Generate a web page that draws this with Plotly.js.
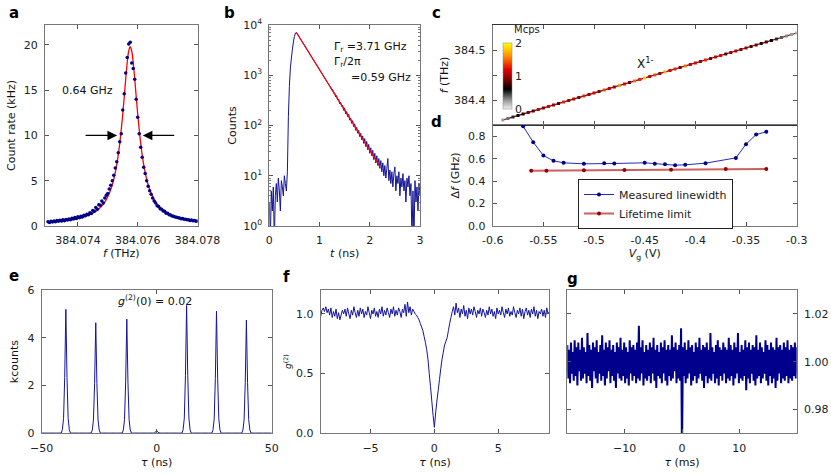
<!DOCTYPE html>
<html>
<head>
<meta charset="utf-8">
<script src="https://cdn.plot.ly/plotly-3.0.1.min.js"></script>
<style>html,body{margin:0;padding:0;background:#fff}#chart{width:831px;height:475px}</style>
</head>
<body>
<div id="chart"></div>
<script>
// ---------- Panel a: resonance fluorescence linescan ----------
const aFreqStart = 384.0730;   // THz, first dot
const aFreqStep = 0.00005;     // THz between dots
const aCountRate = [
0.48,0.40,0.52,0.45,0.55,0.47,0.60,0.52,0.63,0.55,
0.70,0.58,0.72,0.66,0.78,0.70,0.85,0.76,0.93,0.84,
1.02,0.90,1.08,1.00,1.20,1.12,1.30,1.25,1.45,1.38,
1.70,1.62,2.05,1.85,2.35,2.30,2.75,2.55,3.10,3.40,
3.60,4.10,4.50,5.00,5.60,6.40,7.10,8.10,9.30,10.20,
12.80,14.60,16.90,18.60,20.10,20.30,18.00,17.40,16.20,14.00,
12.00,10.20,8.70,7.60,6.50,5.80,5.00,4.40,3.90,3.50,
3.10,2.75,2.55,2.25,2.15,1.90,1.85,1.65,1.62,1.40,
1.40,1.25,1.22,1.10,1.08,1.00,0.98,0.90,0.88,0.80,
0.82,0.74,0.75,0.68,0.70,0.62,0.65,0.58,0.60,0.52,
0.56];
const aFitFreq = [384.0730,384.0733,384.0736,384.0739,384.0742,384.0745,384.0747,384.0749,384.0751,384.0752,
384.0753,384.0754,384.0755,384.0756,384.07565,384.0757,384.07575,384.0758,384.07585,384.0759,
384.0760,384.0761,384.0762,384.0763,384.0764,384.0766,384.0768,384.0770,384.0773,384.0776,384.0780];
const aFitRate = [0.46,0.53,0.62,0.77,1.00,1.41,1.87,2.63,4.02,5.16,
6.78,9.13,12.37,16.27,18.06,19.33,19.80,19.33,18.06,16.27,
12.37,9.13,6.78,5.16,4.02,2.63,1.87,1.41,1.00,0.77,0.59];

// ---------- Panel b: lifetime ----------
const bTimeStart = 0;     // ns
const bTimeStep = 0.02;   // ns
const bCounts = [
3,0.5,5,2,6,0.5,4,7,3,9,5,2,8,6,4,10,7,5,
12,150,600,1400,2200,3300,4600,5900,6900,7100,
6590,6120,5680,5280,4900,4550,4220,3920,3640,3380,3140,2920,2710,2510,2330,2170,2010,1870,1735,1610,1500,1390,1290,1200,1110,1030,960,890,826,767,712,662,614,
585,510,520,440,445,370,395,320,335,270,290,240,255,200,225,170,190,150,168,128,142,110,125,95,108,80,92,70,80,60,70,52,62,44,55,38,48,33,42,28,36,25,32,21,28,18,25,16,22,14,
20,12,18,10,16,9,14,22,8,13,7,12,6,11,15,5,10,7,12,4,9,6,11,5,8,3,9,6,10,4,7,0.5,5,0.5,8,3,6,2,7,4];
const bFitTime = [0.54, 2.20];
const bFitCounts = [7100, 15.2];
const bTickVals = [1, 10, 100, 1000, 10000];
const bTickText = ['10<sup>0</sup>','10<sup>1</sup>','10<sup>2</sup>','10<sup>3</sup>','10<sup>4</sup>'];

// ---------- Panel c: gate-voltage map ----------
const cVoltage = [-0.590,-0.585,-0.580,-0.575,-0.570,-0.565,-0.560,-0.555,-0.550,-0.545,
-0.540,-0.535,-0.530,-0.525,-0.520,-0.515,-0.510,-0.505,-0.500,-0.495,
-0.490,-0.485,-0.480,-0.475,-0.470,-0.465,-0.460,-0.455,-0.450,-0.445,
-0.440,-0.435,-0.430,-0.425,-0.420,-0.415,-0.410,-0.405,-0.400,-0.395,
-0.390,-0.385,-0.380,-0.375,-0.370,-0.365,-0.360,-0.355,-0.350,-0.345,
-0.340,-0.335,-0.330,-0.325,-0.320,-0.315,-0.310,-0.305,-0.300];
const cFreq = [384.360,384.363,384.366,384.369,384.372,384.375,384.378,384.381,384.384,384.387,
384.390,384.393,384.396,384.399,384.402,384.405,384.408,384.411,384.414,384.417,
384.420,384.423,384.426,384.429,384.432,384.435,384.438,384.441,384.444,384.447,
384.450,384.453,384.456,384.459,384.462,384.465,384.468,384.471,384.474,384.477,
384.480,384.483,384.486,384.489,384.492,384.495,384.498,384.501,384.504,384.507,
384.510,384.513,384.516,384.519,384.522,384.525,384.528,384.531,384.534];
const cIntensity = [0.25,0.35,0.5,0.6,0.7,0.9,0.8,1.1,0.9,1.2,
1.0,0.8,1.3,1.0,1.1,0.9,1.3,1.0,1.2,0.9,
1.4,1.1,1.0,1.6,1.2,0.9,1.5,1.3,1.8,1.1,
1.4,1.0,1.7,1.2,1.3,0.9,1.5,1.1,1.2,1.0,
1.3,0.9,1.1,1.2,0.8,1.0,1.1,0.9,1.0,0.8,
0.9,0.7,0.8,0.6,0.5,0.4,0.3,0.25,0.2];
const cTickVals = [384.4, 384.45, 384.5];
const cTickText = ['384.4', '', '384.5'];
const cBarTicks = [0, 1, 2];

// ---------- Panel d: linewidth vs gate voltage ----------
const dMeasV = [-0.58,-0.57,-0.56,-0.55,-0.54,-0.53,-0.51,-0.49,-0.48,-0.45,-0.44,-0.43,-0.42,-0.41,-0.39,-0.36,-0.35,-0.34,-0.33];
const dMeasWidth = [1.10,0.889,0.747,0.628,0.581,0.563,0.554,0.560,0.557,0.563,0.554,0.551,0.542,0.545,0.560,0.607,0.729,0.815,0.839];
const dLimitV = [-0.562,-0.547,-0.51,-0.47,-0.424,-0.37,-0.33];
const dLimitWidth = [0.492,0.493,0.496,0.499,0.502,0.507,0.508];
const dTickVals = [-0.6,-0.55,-0.5,-0.45,-0.4,-0.35,-0.3];
const dTickText = ['-0.6','-0.55','-0.5','-0.45','-0.4','-0.35','-0.3'];

// ---------- Panel e: pulsed g2 ----------
const eTauStart = -50;  // ns
const eTauStep = 0.5;   // ns
const eKcounts = [
0.01,0.01,0.01,0.01,0.01,0.01,0.01,0.01,0.01,0.01,
0.01,0.01,0.01,0.01,0.01,0.01,0.01,0.01,0.16,0.62,
2.34,5.19,2.34,0.62,0.16,0.01,0.01,0.01,0.01,0.01,
0.01,0.01,0.01,0.01,0.01,0.01,0.01,0.01,0.01,0.01,
0.01,0.01,0.01,0.01,0.14,0.56,2.08,4.63,2.08,0.56,
0.14,0.01,0.01,0.01,0.01,0.01,0.01,0.01,0.01,0.01,
0.01,0.01,0.01,0.01,0.01,0.01,0.01,0.01,0.01,0.01,
0.01,0.14,0.57,2.15,4.78,2.15,0.57,0.14,0.01,0.01,
0.01,0.01,0.01,0.01,0.01,0.01,0.01,0.01,0.01,0.01,
0.01,0.01,0.01,0.01,0.01,0.01,0.01,0.01,0.02,0.05,
0.11,0.05,0.02,0.01,0.01,0.01,0.01,0.01,0.01,0.01,
0.01,0.01,0.01,0.01,0.01,0.01,0.01,0.01,0.01,0.01,
0.01,0.01,0.01,0.16,0.64,2.41,5.35,2.41,0.64,0.16,
0.01,0.01,0.01,0.01,0.01,0.01,0.01,0.01,0.01,0.01,
0.01,0.01,0.01,0.01,0.01,0.01,0.01,0.01,0.01,0.15,
0.61,2.30,5.12,2.30,0.61,0.15,0.01,0.01,0.01,0.01,
0.01,0.01,0.01,0.01,0.01,0.01,0.01,0.01,0.01,0.01,
0.01,0.01,0.01,0.01,0.01,0.14,0.57,2.13,4.74,2.13,
0.57,0.14,0.01,0.01,0.01,0.01,0.01,0.01,0.01,0.01,
0.01,0.01,0.01,0.01,0.01,0.01,0.01,0.01,0.01,0.01,
0.01];

// ---------- Panel f: CW g2 ----------
const fTauStart = -9;  // ns
const fTauStep = 0.1;  // ns
const fG2 = [
1.00,0.98,1.03,1.05,1.02,1.06,1.01,1.04,0.99,1.05,
0.97,1.02,0.98,1.04,0.96,1.01,0.95,0.99,1.03,1.00,
1.04,0.98,1.05,1.00,0.96,1.03,0.99,1.06,1.01,0.97,
1.03,0.98,1.05,1.00,1.04,0.97,1.02,0.99,1.06,1.01,
0.96,1.03,1.00,1.05,0.98,1.02,0.97,1.04,1.00,1.06,
0.98,1.03,0.99,1.05,1.01,0.97,1.04,1.00,1.06,0.98,
1.03,0.99,1.05,1.02,0.97,1.04,1.01,1.08,0.98,1.10,
1.01,1.06,0.99,1.04,1.02,
1.00,0.99,0.97,0.95,0.92,0.89,0.86,0.81,0.76,0.70,
0.62,0.50,0.39,0.27,0.15,0.05,0.17,0.27,0.36,0.45,
0.54,0.62,0.68,0.74,0.77,0.80,0.86,0.92,0.97,1.02,
1.06,0.99,1.09,1.01,1.05,0.97,1.04,1.00,1.07,0.98,
1.03,0.96,1.05,1.00,1.04,0.99,1.06,1.02,0.97,1.03,
1.00,1.05,0.98,1.04,1.01,0.97,1.03,0.99,1.06,1.00,
1.04,0.98,1.02,0.96,1.05,1.00,1.03,0.99,1.06,1.01,
0.97,1.04,1.00,1.05,0.98,1.02,0.99,1.06,1.01,0.97,
1.03,1.00,1.05,0.98,1.04,0.96,1.02,1.05,0.99,1.03,
0.97,1.04,1.00,1.06,0.98,1.03,0.96,1.02,1.00,1.04,
0.98,1.03,0.97,1.05,1.00,1.02];

// ---------- Panel g: long-timescale g2 ----------
const gTauStart = -20;  // ms
const gTauStep = 0.16;  // ms
const gG2 = [
1.007,0.993,1.005,0.991,1.008,0.995,1.004,0.992,1.009,0.994,
1.006,0.990,1.008,0.996,1.005,0.992,1.010,0.993,1.006,0.995,
1.004,0.991,1.012,0.994,1.007,0.992,1.005,0.989,1.008,0.996,
1.006,0.993,1.009,0.991,1.004,0.995,1.007,0.992,1.011,0.994,
1.005,0.990,1.008,0.993,1.006,0.996,1.009,0.991,1.005,0.994,
1.007,0.992,1.004,0.989,1.008,0.995,1.006,0.993,1.010,0.992,
1.005,0.994,1.008,0.991,1.006,0.993,1.004,0.990,1.009,0.995,
1.006,0.992,1.007,0.994,1.005,0.991,1.008,0.993,1.015,0.992,
1.006,0.995,1.009,0.990,1.004,0.993,1.007,0.992,1.005,0.994,
1.008,0.991,1.006,0.995,1.010,0.992,1.005,0.989,1.007,0.994,
1.004,0.993,1.008,0.991,1.006,0.995,1.009,0.992,1.005,0.990,
1.007,0.994,1.005,0.992,1.011,0.993,1.006,0.996,1.008,0.991,
1.005,0.993,1.007,0.992,1.014,0.960,1.006,0.994,1.008,0.991,
1.005,0.993,1.009,0.995,1.006,0.990,1.007,0.992,1.004,0.994,
1.008,0.991,1.006,0.993,1.010,0.995,1.005,0.992,1.007,0.989,
1.006,0.994,1.008,0.991,1.005,0.993,1.012,0.992,1.006,0.995,
1.004,0.991,1.007,0.993,1.009,0.990,1.006,0.994,1.005,0.992,
1.008,0.995,1.006,0.991,1.005,0.993,1.010,0.992,1.007,0.994,
1.005,0.990,1.008,0.993,1.006,0.995,1.012,0.991,1.004,0.993,
1.007,0.992,1.005,0.994,1.009,0.988,1.006,0.993,1.008,0.991,
1.005,0.995,1.007,0.992,1.006,0.990,1.011,0.993,1.005,0.994,
1.008,0.991,1.006,0.993,1.004,0.995,1.009,0.992,1.007,0.990,
1.005,0.994,1.008,0.991,1.006,0.993,1.005,0.989,1.010,0.992,
1.006,0.995,1.007,0.991,1.005,0.993,1.008,0.992,1.006,0.994,
1.009,0.991,1.005,0.993,1.007,0.992,1.006,0.994,1.008,0.993,
1.006];

// ---------- styling ----------
const W = 831, H = 475;
const FONT = 'DejaVu Sans, Verdana, sans-serif';
const NAVY = 'rgb(0,0,139)';
const px = v => v / W;
const py = v => 1 - v / H;

function axis(extra) {
  return Object.assign({
    showline: true, linecolor: '#777', linewidth: 1, mirror: 'ticks',
    ticks: 'inside', ticklen: 4, tickcolor: '#555',
    showgrid: false, zeroline: false,
    tickfont: {family: FONT, size: 11, color: '#222'},
    ticklabelstandoff: 4,
    fixedrange: true
  }, extra);
}
function ttl(text, standoff, size) {
  return {text: text, standoff: standoff, font: {family: FONT, size: size || 11, color: '#111'}};
}
function note(text, x, y, opts) {
  return Object.assign({text: text, x: px(x), y: py(y), xref: 'paper', yref: 'paper', xanchor: 'center', yanchor: 'middle',
    showarrow: false, font: {family: FONT, size: 11, color: '#111'}}, opts || {});
}
const letterFont = {family: FONT, size: 15, color: '#000'};

const traces = [
  // a
  {type: 'scatter', mode: 'lines', x: aFitFreq, y: aFitRate, line: {color: '#ff0000', width: 1.3, shape: 'spline'}, xaxis: 'x', yaxis: 'y', showlegend: false},
  {type: 'scatter', mode: 'markers', x0: aFreqStart, dx: aFreqStep, y: aCountRate, marker: {color: NAVY, size: 3.5}, xaxis: 'x', yaxis: 'y', showlegend: false},
  // b
  {type: 'scatter', mode: 'lines', x0: bTimeStart, dx: bTimeStep, y: bCounts, line: {color: 'rgb(20,20,150)', width: 1, simplify: false}, xaxis: 'x2', yaxis: 'y2', showlegend: false},
  {type: 'scatter', mode: 'lines', x: bFitTime, y: bFitCounts, line: {color: '#ff0000', width: 1.2}, xaxis: 'x2', yaxis: 'y2', showlegend: false},
  // c
  {type: 'scatter', mode: 'lines', x: cVoltage, y: cFreq, line: {color: '#701515', width: 1.3}, xaxis: 'x3', yaxis: 'y3', showlegend: false, hoverinfo: 'skip'},
  {type: 'scatter', mode: 'markers', x: cVoltage, y: cFreq, xaxis: 'x3', yaxis: 'y3', showlegend: false,
   marker: {color: cIntensity, cmin: 0, cmax: 2, size: 3, symbol: 'square', line: {width: 0},
     colorscale: [[0, '#f0f0f0'], [0.12, '#a0a0a0'], [0.3, '#000000'], [0.45, '#800000'], [0.6, '#e00000'], [0.8, '#ff9000'], [1, '#ffff00']],
     showscale: true,
     colorbar: {x: px(502.5), xanchor: 'left', y: py(109), yanchor: 'bottom', len: 66 / H, lenmode: 'fraction',
       thickness: 9, thicknessmode: 'pixels', xpad: 0, ypad: 0, outlinewidth: 0.5, outlinecolor: '#888',
       tickvals: cBarTicks, ticks: '', ticklabelposition: 'outside',
       tickfont: {family: FONT, size: 11, color: '#222'}}}},
  // d
  {type: 'scatter', mode: 'lines+markers', name: 'Measured linewidth', x: dMeasV, y: dMeasWidth,
   line: {color: '#2828b8', width: 1}, marker: {color: NAVY, size: 4}, xaxis: 'x4', yaxis: 'y4'},
  {type: 'scatter', mode: 'lines+markers', name: 'Lifetime limit', x: dLimitV, y: dLimitWidth,
   line: {color: 'rgb(205,95,95)', width: 2}, marker: {color: 'rgb(150,0,0)', size: 4}, xaxis: 'x4', yaxis: 'y4'},
  // e
  {type: 'scatter', mode: 'lines', x0: eTauStart, dx: eTauStep, y: eKcounts, line: {color: 'rgb(20,20,160)', width: 1, simplify: false}, xaxis: 'x5', yaxis: 'y5', showlegend: false},
  // f
  {type: 'scatter', mode: 'lines', x0: fTauStart, dx: fTauStep, y: fG2, line: {color: 'rgb(20,20,160)', width: 1, simplify: false}, xaxis: 'x6', yaxis: 'y6', showlegend: false},
  // g
  {type: 'scatter', mode: 'lines', x0: gTauStart, dx: gTauStep, y: gG2, line: {color: 'rgb(0,0,140)', width: 2, simplify: false}, xaxis: 'x7', yaxis: 'y7', showlegend: false}
];

const layout = {
  width: W, height: H,
  margin: {l: 0, r: 0, t: 0, b: 0},
  paper_bgcolor: '#fff', plot_bgcolor: '#fff',
  font: {family: FONT, size: 11, color: '#222'},
  showlegend: true,
  legend: {x: px(578), y: py(179), xanchor: 'left', yanchor: 'top', bgcolor: '#fff', bordercolor: '#222', borderwidth: 1,
    font: {family: FONT, size: 11, color: '#222'}, tracegroupgap: 0, itemwidth: 30},
  // a
  xaxis: axis({domain: [px(45), px(197.5)], anchor: 'y', range: [384.0729, 384.0780], tickvals: [384.074, 384.076, 384.078], tickformat: '.3f',
    title: ttl('<i>f</i> (THz)', 3)}),
  yaxis: axis({domain: [py(226), py(25)], anchor: 'x', range: [0, 22.2], dtick: 5, title: ttl('Count rate (kHz)', 5)}),
  // b
  xaxis2: axis({domain: [px(269.3), px(420)], anchor: 'y2', range: [0, 3], dtick: 1, title: ttl('<i>t</i> (ns)', 3)}),
  yaxis2: axis({domain: [py(226), py(25)], anchor: 'x2', type: 'log', range: [0, 4], tickvals: bTickVals, ticktext: bTickText,
    minor: {ticks: 'inside', ticklen: 2, tickcolor: '#777', dtick: 'D1'},
    title: ttl('Counts', 4)}),
  // c
  xaxis3: axis({domain: [px(492.7), px(796.7)], anchor: 'y3', range: [-0.6, -0.3], tickvals: dTickVals, showticklabels: false, linecolor: '#333'}),
  yaxis3: axis({domain: [py(125), py(25)], anchor: 'x3', range: [384.35, 384.55], tickvals: cTickVals, ticktext: cTickText,
    title: ttl('<i>f</i> (THz)', 3)}),
  // d
  xaxis4: axis({domain: [px(492.7), px(796.7)], anchor: 'y4', range: [-0.6, -0.3], tickvals: dTickVals, ticktext: dTickText,
    title: ttl('<i>V</i><sub>g</sub> (V)', 2)}),
  yaxis4: axis({domain: [py(226), py(125)], anchor: 'x4', range: [0, 0.9], tickvals: [0, 0.2, 0.4, 0.6, 0.8], tickformat: '.1f',
    title: ttl('Δ<i>f</i> (GHz)', 6)}),
  // e
  xaxis5: axis({domain: [px(41.7), px(271.7)], anchor: 'y5', range: [-50, 50], tickvals: [-50, 0, 50], title: ttl('<i>τ</i> (ns)', 4)}),
  yaxis5: axis({domain: [py(433.3), py(290)], anchor: 'x5', range: [0, 6], dtick: 2, title: ttl('kcounts', 6)}),
  // f
  xaxis6: axis({domain: [px(320.7), px(549.3)], anchor: 'y6', range: [-8.9, 9], tickvals: [-5, 0, 5], title: ttl('<i>τ</i> (ns)', 4)}),
  yaxis6: axis({domain: [py(433.3), py(290)], anchor: 'x6', range: [0, 1.2], tickvals: [0, 0.5, 1], tickformat: '.1f',
    title: ttl('<i>g</i><sup>(2)</sup>', 2, 9)}),
  // g
  xaxis7: axis({domain: [px(567.3), px(796.7)], anchor: 'y7', range: [-20, 20], tickvals: [-10, 0, 10], title: ttl('<i>τ</i> (ms)', 4)}),
  yaxis7: axis({domain: [py(433.3), py(290)], anchor: 'x7', side: 'right', range: [0.97, 1.03], tickvals: [0.98, 1.0, 1.02], tickformat: '.2f'}),
  annotations: [
    // panel letters
    note('<b>a</b>', 14, 13, {font: letterFont}),
    note('<b>b</b>', 229, 13, {font: letterFont}),
    note('<b>c</b>', 437, 13, {font: letterFont}),
    note('<b>d</b>', 437, 122, {font: letterFont}),
    note('<b>e</b>', 14, 276, {font: letterFont}),
    note('<b>f</b>', 286, 277, {font: letterFont}),
    note('<b>g</b>', 572, 279, {font: letterFont}),
    // panel a
    note('0.64 GHz', 87, 90),
    {text: '', x: 384.07531, y: 10, xref: 'x', yref: 'y', showarrow: true, ax: -33, ay: 0, arrowhead: 2, arrowsize: 1.6, arrowwidth: 1.2, arrowcolor: '#000', standoff: 0},
    {text: '', x: 384.07617, y: 10, xref: 'x', yref: 'y', showarrow: true, ax: 33, ay: 0, arrowhead: 2, arrowsize: 1.6, arrowwidth: 1.2, arrowcolor: '#000', standoff: 0},
    // panel b
    note('Γ<sub>r</sub> =3.71 GHz', 331.7, 46.7, {xanchor: 'left'}),
    note('Γ<sub>r</sub>/2π', 331.7, 61.7, {xanchor: 'left'}),
    note('=0.59 GHz', 412.7, 77, {xanchor: 'right'}),
    // panel c
    note('X<sup>1-</sup>', 645, 63, {font: {family: FONT, size: 12, color: '#111'}}),
    note('Mcps', 527, 30, {font: {family: FONT, size: 10, color: '#222'}}),
    // panel e
    note('<i>g</i><sup>(2)</sup>(0) = 0.02', 155, 300)
  ]
};

Plotly.newPlot('chart', traces, layout, {staticPlot: true, displayModeBar: false});
</script>
</body>
</html>
